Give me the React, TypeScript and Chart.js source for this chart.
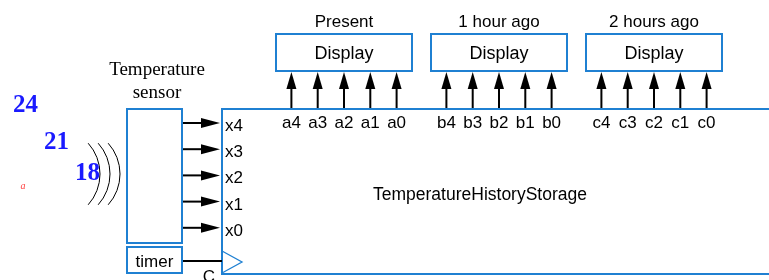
import React, { useEffect, useRef } from "react";
import { Chart, registerables } from "chart.js";

Chart.register(...registerables);

// ---- Diagram data ----
const displayTitles = ["Present", "1 hour ago", "2 hours ago"];
const displayLabel = "Display";
const presentBits = ["a4", "a3", "a2", "a1", "a0"];
const hourAgoBits = ["b4", "b3", "b2", "b1", "b0"];
const twoHoursAgoBits = ["c4", "c3", "c2", "c1", "c0"];
const sensorBits = ["x4", "x3", "x2", "x1", "x0"];
const temperatures = ["24", "21", "18"];
const sensorTitle = ["Temperature", "sensor"];
const storageLabel = "TemperatureHistoryStorage";
const timerLabel = "timer";
const clockLabel = "C";
const noteLabel = "a";

const BLUE = "#1f80d2";
const SANS = '"Liberation Sans", Arial, Helvetica, sans-serif';
const SERIF = '"Liberation Serif", "Times New Roman", serif';

const diagramPlugin = {
  id: "diagram",
  afterDraw(chart: any) {
    const ctx: CanvasRenderingContext2D = chart.ctx;
    const xs = chart.scales.x;
    const ys = chart.scales.y;
    const X = (v: number) => xs.getPixelForValue(v);
    const Y = (v: number) => ys.getPixelForValue(v);

    const rect = (x0: number, y0: number, x1: number, y1: number) => {
      ctx.save();
      ctx.strokeStyle = BLUE;
      ctx.lineWidth = 2;
      ctx.strokeRect(X(x0), Y(y0), X(x1) - X(x0), Y(y1) - Y(y0));
      ctx.restore();
    };
    const text = (
      s: string,
      x: number,
      y: number,
      font: string,
      align: CanvasTextAlign = "center",
      color = "#000"
    ) => {
      ctx.save();
      ctx.font = font;
      ctx.fillStyle = color;
      ctx.textAlign = align;
      ctx.textBaseline = "alphabetic";
      ctx.fillText(s, X(x), Y(y));
      ctx.restore();
    };
    const arrowRight = (x0: number, x1: number, y: number) => {
      ctx.save();
      ctx.strokeStyle = "#000";
      ctx.fillStyle = "#000";
      ctx.lineWidth = 2;
      ctx.beginPath();
      ctx.moveTo(X(x0), Y(y));
      ctx.lineTo(X(x1 - 18), Y(y));
      ctx.stroke();
      ctx.beginPath();
      ctx.moveTo(X(x1), Y(y));
      ctx.lineTo(X(x1 - 19), Y(y - 5));
      ctx.lineTo(X(x1 - 19), Y(y + 5));
      ctx.closePath();
      ctx.fill();
      ctx.restore();
    };
    const arrowUp = (x: number, y0: number, y1: number) => {
      ctx.save();
      ctx.strokeStyle = "#000";
      ctx.fillStyle = "#000";
      ctx.lineWidth = 2;
      ctx.beginPath();
      ctx.moveTo(X(x), Y(y0));
      ctx.lineTo(X(x), Y(y1 + 15));
      ctx.stroke();
      ctx.beginPath();
      ctx.moveTo(X(x), Y(y1));
      ctx.lineTo(X(x - 5), Y(y1 + 17));
      ctx.lineTo(X(x + 5), Y(y1 + 17));
      ctx.closePath();
      ctx.fill();
      ctx.restore();
    };

    // Storage block
    ctx.save();
    ctx.strokeStyle = BLUE;
    ctx.lineWidth = 2;
    ctx.beginPath();
    ctx.moveTo(X(790), Y(109));
    ctx.lineTo(X(222), Y(109));
    ctx.lineTo(X(222), Y(274));
    ctx.lineTo(X(790), Y(274));
    ctx.stroke();
    // clock triangle
    ctx.lineWidth = 1.3;
    ctx.beginPath();
    ctx.moveTo(X(222), Y(251));
    ctx.lineTo(X(242), Y(262));
    ctx.lineTo(X(222), Y(273));
    ctx.stroke();
    ctx.restore();
    text(storageLabel, 480, 200, `17.5px ${SANS}`);

    // Display blocks
    const groups = [presentBits, hourAgoBits, twoHoursAgoBits];
    displayTitles.forEach((title, i) => {
      const cx = 344 + i * 155;
      rect(cx - 68, 34, cx + 68, 71);
      text(title, cx, 27, `17px ${SANS}`);
      text(displayLabel, cx, 59, `18px ${SANS}`);
      groups[i].forEach((b, j) => {
        const bx = cx + (j - 2) * 26.3;
        arrowUp(bx, 108, 72);
        text(b, bx, 128, `17px ${SANS}`);
      });
    });

    // Sensor
    rect(127, 109, 182, 243);
    text(sensorTitle[0], 157, 75, `19px ${SERIF}`);
    text(sensorTitle[1], 157, 98, `19px ${SERIF}`);
    sensorBits.forEach((b, i) => {
      const y = 123 + i * 26.2;
      arrowRight(183, 220, y);
      text(b, 225, y + 8, `17px ${SANS}`, "left");
    });

    // Timer
    rect(127, 247, 182, 273);
    text(timerLabel, 154.5, 267, `17px ${SANS}`);
    ctx.save();
    ctx.strokeStyle = "#000";
    ctx.lineWidth = 2;
    ctx.beginPath();
    ctx.moveTo(X(183), Y(261));
    ctx.lineTo(X(222), Y(261));
    ctx.stroke();
    ctx.restore();
    text(clockLabel, 209, 282, `17px ${SANS}`);

    // Waves
    ctx.save();
    ctx.strokeStyle = "#000";
    ctx.lineWidth = 1;
    [0, 10, 20].forEach((off) => {
      const cx = X(54 + off);
      const cy = Y(174);
      const r = X(46) - X(0);
      ctx.beginPath();
      ctx.arc(cx, cy, r, (-42 * Math.PI) / 180, (42 * Math.PI) / 180);
      ctx.stroke();
    });
    ctx.restore();

    // Temperature readings
    const tempPos = [
      [13, 112],
      [44, 149],
      [75, 180],
    ];
    temperatures.forEach((t, i) => {
      text(t, tempPos[i][0], tempPos[i][1], `bold 25px ${SERIF}`, "left", "#1a1aff");
    });
    text(noteLabel, 23, 189, `italic 10px ${SERIF}`, "center", "#ff3b3b");
  },
};

export default function App() {
  const ref = useRef<HTMLCanvasElement | null>(null);
  useEffect(() => {
    document.body.style.margin = "0";
    if (!ref.current) return;
    const chart = new Chart(ref.current, {
      type: "scatter",
      data: { datasets: [{ data: [], pointRadius: 0 }] },
      options: {
        animation: false,
        responsive: false,
        maintainAspectRatio: false,
        layout: { padding: 0 },
        plugins: { legend: { display: false }, tooltip: { enabled: false } },
        scales: {
          x: { type: "linear", min: 0, max: 769, display: false },
          y: { type: "linear", min: 0, max: 280, reverse: true, display: false },
        },
      },
      plugins: [diagramPlugin],
    });
    return () => chart.destroy();
  }, []);
  return (
    <div style={{ position: "absolute", left: 0, top: 0, width: 769, height: 280, background: "#fff" }}>
      <canvas ref={ref} width={769} height={280} />
    </div>
  );
}
